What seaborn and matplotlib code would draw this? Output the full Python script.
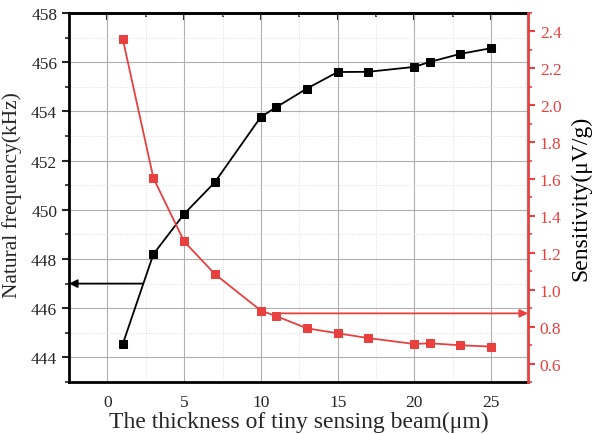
import matplotlib
matplotlib.use("Agg")
import matplotlib.pyplot as plt
import seaborn as sns
import pandas as pd
from matplotlib.ticker import MultipleLocator

thickness = [1, 3, 5, 7, 10, 11, 13, 15, 17, 20, 21, 23, 25]
frequency = [444.54, 448.2, 449.83, 451.12, 453.78, 454.17, 454.93, 455.6, 455.61, 455.81, 456.01, 456.34, 456.57]
sensitivity = [2.36, 1.605, 1.262, 1.085, 0.887, 0.857, 0.791, 0.764, 0.738, 0.706, 0.710, 0.699, 0.692]

xlabel = "The thickness of tiny sensing beam(\u03bcm)"
ylabel_left = "Natural frequency(kHz)"
ylabel_right = "Sensitivity(\u03bcV/g)"

RED = "#e8403f"

sns.set_style("white")
plt.rcParams["font.family"] = ["Liberation Serif", "DejaVu Serif"]

df = pd.DataFrame({"thickness": thickness, "frequency": frequency, "sensitivity": sensitivity})

fig = plt.figure(figsize=(5.93, 4.35), dpi=100)
ax = fig.add_axes([69/593, 1 - 383/435, (528-69)/593, (383-14)/435])
ax2 = ax.twinx()

sns.lineplot(data=df, x="thickness", y="frequency", ax=ax, color="black", marker="s",
             markersize=6, markeredgecolor="black", linewidth=1.3, zorder=5)
sns.lineplot(data=df, x="thickness", y="sensitivity", ax=ax2, color=RED, marker="s",
             markersize=6, markeredgecolor=RED, linewidth=1.3, zorder=5)

ax.set_xlim(-2.5, 27.4)
ax.set_ylim(443, 458)
ax2.set_ylim(0.5, 2.5)

ax.xaxis.set_major_locator(MultipleLocator(5))
ax.xaxis.set_minor_locator(MultipleLocator(2.5))
ax.yaxis.set_major_locator(MultipleLocator(2))
ax.yaxis.set_minor_locator(MultipleLocator(1))
ax2.yaxis.set_major_locator(MultipleLocator(0.2))
ax2.yaxis.set_minor_locator(MultipleLocator(0.1))
ax2.yaxis.set_major_formatter(plt.FuncFormatter(lambda v, p: f"{v:.1f}"))

ax.grid(True, which="major", color="#b0b0b0", linewidth=0.8)
ax.grid(True, which="minor", color="#d8d8d8", linewidth=0.6, linestyle=":")
ax.set_axisbelow(True)

for s in ["left", "bottom", "top"]:
    ax.spines[s].set_linewidth(2)
    ax.spines[s].set_color("black")
ax.spines["right"].set_visible(False)
for s in ["left", "bottom", "top"]:
    ax2.spines[s].set_visible(False)
ax2.spines["right"].set_linewidth(2)
ax2.spines["right"].set_color(RED)

ax.tick_params(axis="x", which="major", direction="out", length=5, width=1.5, labelsize=12.5, top=False)
ax.tick_params(axis="x", which="minor", direction="out", length=3, width=1.2, top=False)
ax.tick_params(axis="y", which="major", direction="out", length=5, width=1.5, labelsize=12.5)
ax.tick_params(axis="y", which="minor", direction="out", length=3, width=1.2)
ax2.tick_params(axis="y", which="major", direction="out", length=5, width=1.5, labelsize=12.5,
                colors=RED)
ax2.tick_params(axis="y", which="minor", direction="out", length=3, width=1.2, colors=RED)

# top ticks pointing inward
top = ax.secondary_xaxis("top")
top.xaxis.set_major_locator(MultipleLocator(5))
top.xaxis.set_minor_locator(MultipleLocator(2.5))
top.tick_params(axis="x", which="major", direction="in", length=5, width=1.5, labeltop=False)
top.tick_params(axis="x", which="minor", direction="in", length=3, width=1.2)
top.spines["top"].set_linewidth(2)

ax.set_xlabel(xlabel, fontsize=17, labelpad=1)
ax.set_ylabel(ylabel_left, fontsize=15.5)
ax.yaxis.set_label_coords(-0.103, 0.51)
ax2.set_ylabel(ylabel_right, fontsize=17, labelpad=6, color="black")

# arrows
ax.annotate("", xy=(-2.5, 447.0), xytext=(2.3, 447.0), xycoords="data",
            arrowprops=dict(arrowstyle="-|>", color="black", lw=1.3, mutation_scale=12, shrinkA=0, shrinkB=0))
ax2.annotate("", xy=(27.4, 0.872), xytext=(11.35, 0.872), xycoords="data",
             arrowprops=dict(arrowstyle="-|>", color=RED, lw=1.3, mutation_scale=12, shrinkA=0, shrinkB=0))

fig.savefig("out.png", dpi=100)
